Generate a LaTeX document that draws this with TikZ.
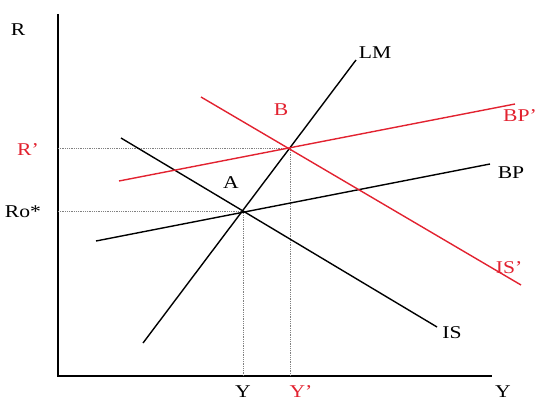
\documentclass[tikz,border=0pt]{standalone}
\usepackage{fontspec}
\setmainfont[FakeStretch=1.2]{Liberation Serif}
\definecolor{myred}{RGB}{226,34,48}
\begin{document}
\begin{tikzpicture}[x=1pt,y=-1pt,
  curve/.style={line width=1.4pt},
  redcurve/.style={curve,draw=myred},
  axis/.style={line width=1.8pt},
  guide/.style={densely dotted,line width=0.8pt,draw=gray},
  lbl/.style={inner sep=0pt,font=\fontsize{18}{18}\selectfont},
  redlbl/.style={lbl,text=myred}]
\useasboundingbox (0,0) rectangle (537,403);
% axes
\coordinate (top) at (58,14);
\coordinate (O) at (58,376);
\coordinate (xend) at (492,376);
\draw[axis] (top) -- (O) -- (xend);
% equilibrium points
\coordinate (A) at (243,211);
\coordinate (B) at (290,148);
\coordinate (Ay) at (58,211);
\coordinate (By) at (58,148);
\coordinate (Ax) at (243,376);
\coordinate (Bx) at (290,376);
\draw[guide] (Ay) -- (A) -- (Ax);
\draw[guide] (By) -- (B) -- (Bx);
% curves
\coordinate (LMs) at (143,343); \coordinate (LMe) at (356,60);
\coordinate (ISs) at (121,138); \coordinate (ISe) at (437,327);
\coordinate (BPs) at (96,241);  \coordinate (BPe) at (490,164);
\coordinate (BP2s) at (119,181); \coordinate (BP2e) at (515,104);
\coordinate (IS2s) at (201,97); \coordinate (IS2e) at (521,285);
\draw[curve] (LMs) -- (LMe);
\draw[curve] (ISs) -- (ISe);
\draw[curve] (BPs) -- (BPe);
\draw[redcurve] (BP2s) -- (BP2e);
\draw[redcurve] (IS2s) -- (IS2e);
% labels
\node[lbl] (lR) at (18,30) {R};
\node[redlbl] (lR2) at (28,150) {R’};
\node[lbl] (lRo) at (23,212) {Ro*};
\node[lbl] (lA) at (231,183) {A};
\node[redlbl] (lB) at (281,110) {B};
\node[lbl] (lLM) at (375,53) {LM};
\node[redlbl] (lBP2) at (520,116) {BP’};
\node[lbl] (lBP) at (511,173) {BP};
\node[redlbl] (lIS2) at (509,268) {IS’};
\node[lbl] (lIS) at (452,333) {IS};
\node[lbl] (lY) at (243,392) {Y};
\node[redlbl] (lY2) at (301,392) {Y’};
\node[lbl] (lYax) at (503,392) {Y};
\end{tikzpicture}
\end{document}
